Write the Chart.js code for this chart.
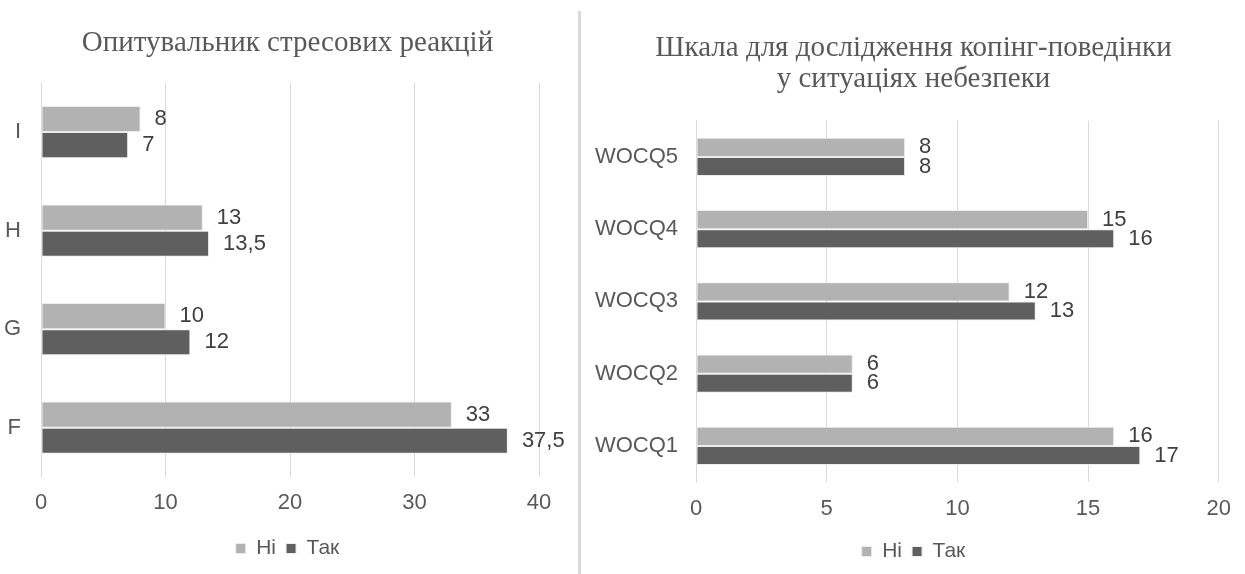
<!DOCTYPE html>
<html>
<head>
<meta charset="utf-8">
<script src="https://cdn.jsdelivr.net/npm/chart.js@4.4.0/dist/chart.umd.min.js"></script>
<style>
  body { margin: 0; background: #fff; }
  #wrap { position: relative; width: 1245px; height: 574px; overflow: hidden; }
  #leftBox { position: absolute; left: 0; top: 0; }
  #rightBox { position: absolute; left: 582px; top: 0; }
  #divider { position: absolute; left: 578px; top: 11px; width: 3px; height: 563px; background: #d9d9d9; }
</style>
</head>
<body>
<div id="wrap">
  <div id="leftBox"><canvas id="stressChart" width="575" height="574"></canvas></div>
  <div id="divider"></div>
  <div id="rightBox"><canvas id="copingChart" width="663" height="574"></canvas></div>
</div>
<script>
// stress reactions questionnaire
const STRESS_LABELS = ["I", "H", "G", "F"];
const STRESS_NI = [8, 13, 10, 33];
const STRESS_TAK = [7, 13.5, 12, 37.5];

// WOCQ coping scale
const COPING_LABELS = ["WOCQ5", "WOCQ4", "WOCQ3", "WOCQ2", "WOCQ1"];
const COPING_NI = [8, 15, 12, 6, 16];
const COPING_TAK = [8, 16, 13, 6, 17];

const SERIES_NAMES = ["Ні", "Так"];
const LIGHT = "#b2b2b2";
const DARK = "#5f5f5f";
const SANS = '"Liberation Sans", Arial, sans-serif';
const SERIF = '"Liberation Serif", "Times New Roman", serif';

// values printed after the end of each bar, decimal comma
const valueLabels = {
    id: "valueLabels",
    afterDatasetsDraw(chart, args, opts) {
        const ctx = chart.ctx;
        ctx.save();
        ctx.font = "22px " + SANS;
        ctx.fillStyle = "#404040";
        ctx.textAlign = "left";
        ctx.textBaseline = "middle";
        chart.data.datasets.forEach((ds, i) => {
            chart.getDatasetMeta(i).data.forEach((bar, j) => {
                ctx.fillText(String(ds.data[j]).replace(".", ","), bar.x + opts.offset, bar.y);
            });
        });
        ctx.restore();
    }
};

function makeChart(canvas, cfg) {
    return new Chart(canvas, {
        type: "bar",
        data: {
            labels: cfg.labels,
            datasets: [
                { label: SERIES_NAMES[0], data: cfg.ni, backgroundColor: LIGHT, borderColor: "#ececec", borderWidth: 1, borderSkipped: false },
                { label: SERIES_NAMES[1], data: cfg.tak, backgroundColor: DARK, borderColor: "#ececec", borderWidth: 1, borderSkipped: false }
            ]
        },
        options: {
            indexAxis: "y",
            responsive: false,
            animation: false,
            categoryPercentage: 0.53,
            barPercentage: 1,
            layout: { padding: { left: 0, right: 0, top: 0, bottom: cfg.bottomPad } },
            scales: {
                x: {
                    min: 0,
                    max: cfg.max,
                    ticks: { stepSize: cfg.step, color: "#595959", font: { family: SANS, size: 22 }, padding: cfg.xTickPad },
                    grid: { color: "#d9d9d9", lineWidth: 1, drawTicks: false },
                    border: { display: false },
                    afterFit(s) { s.height = cfg.xHeight; }
                },
                y: {
                    ticks: { color: "#595959", font: { family: SANS, size: 22 }, padding: cfg.yTickPad },
                    grid: { display: false, drawTicks: false },
                    border: { display: true, color: "#d9d9d9" },
                    afterFit(s) { s.width = cfg.yWidth; }
                },
                yRight: {
                    type: "category",
                    position: "right",
                    ticks: { display: false },
                    grid: { display: false, drawTicks: false },
                    border: { display: false },
                    afterFit(s) { s.width = cfg.rightGap; }
                }
            },
            plugins: {
                title: {
                    display: true,
                    text: cfg.title,
                    color: "#595959",
                    font: { family: SERIF, size: 29, weight: "normal", lineHeight: cfg.titleLine },
                    padding: cfg.titlePad
                },
                legend: {
                    position: "bottom",
                    labels: {
                        color: "#595959",
                        font: { family: SANS, size: 21 },
                        boxWidth: 10,
                        boxHeight: 10,
                        padding: 10
                    }
                },
                tooltip: { enabled: false },
                valueLabels: { offset: 14 }
            }
        },
        plugins: [valueLabels]
    });
}

makeChart(document.getElementById("stressChart"), {
    labels: STRESS_LABELS,
    ni: STRESS_NI,
    tak: STRESS_TAK,
    max: 40,
    step: 10,
    title: "Опитувальник стресових реакцій",
    titleLine: 1.2,
    titlePad: { top: 26, bottom: 22 },
    yWidth: 41,
    yTickPad: 20,
    rightGap: 36,
    xHeight: 51,
    xTickPad: 13,
    bottomPad: 5
});

makeChart(document.getElementById("copingChart"), {
    labels: COPING_LABELS,
    ni: COPING_NI,
    tak: COPING_TAK,
    max: 20,
    step: 5,
    title: ["Шкала для дослідження копінг-поведінки", "у ситуаціях небезпеки"],
    titleLine: 1.1,
    titlePad: { top: 32, bottom: 25 },
    yWidth: 114,
    yTickPad: 18,
    rightGap: 24,
    xHeight: 49,
    xTickPad: 14,
    bottomPad: 2
});
</script>
</body>
</html>
